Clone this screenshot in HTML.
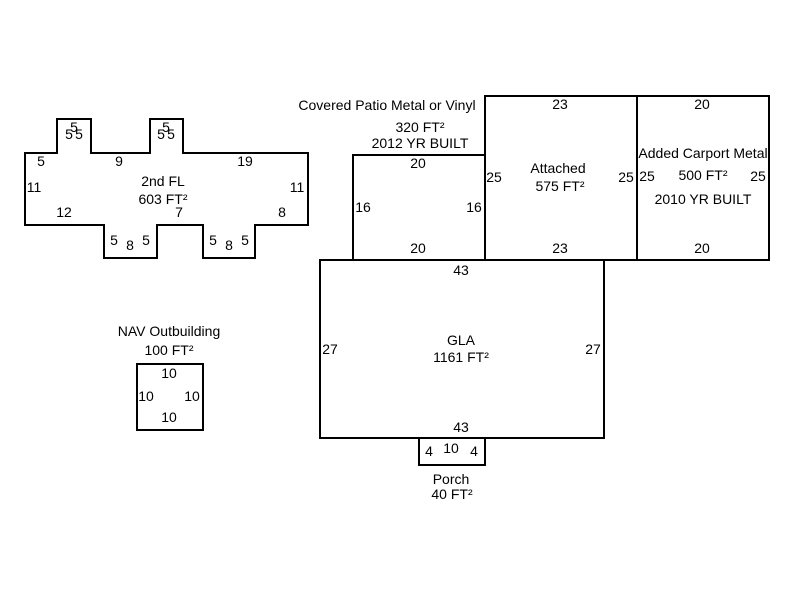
<!DOCTYPE html>
<html><head><meta charset="utf-8"><style>
html,body{margin:0;padding:0;background:#fff;}
svg{display:block;}
text{font-family:"Liberation Sans",Arial,sans-serif;font-size:14px;fill:#000;text-anchor:middle;}
.s{fill:none;stroke:#000;stroke-width:2;}
</style></head><body>
<svg width="800" height="600" viewBox="0 0 800 600">
<polygon class="s" points="25,153 57,153 57,119 91,119 91,153 150,153 150,119 183,119 183,153 308,153 308,225 255,225 255,258 203,258 203,225 157,225 157,258 104,258 104,225 25,225"/>
<rect class="s" x="353" y="155" width="132" height="105"/>
<rect class="s" x="485" y="96" width="152" height="164"/>
<rect class="s" x="637" y="96" width="132" height="164"/>
<rect class="s" x="320" y="260" width="284" height="178"/>
<rect class="s" x="419" y="438" width="66" height="27"/>
<rect class="s" x="137" y="364" width="66" height="66"/>

<text x="74" y="132">5</text><text x="69" y="139">5</text><text x="79" y="139">5</text>
<text x="166" y="132">5</text><text x="161" y="139">5</text><text x="171" y="139">5</text>
<text x="41" y="166">5</text><text x="119" y="166">9</text><text x="245" y="166">19</text>
<text x="34" y="192">11</text><text x="297" y="192">11</text>
<text x="163" y="186">2nd FL</text><text x="163" y="204">603 FT²</text>
<text x="64" y="217">12</text><text x="179" y="217">7</text><text x="282" y="217">8</text>
<text x="114" y="245">5</text><text x="130" y="250">8</text><text x="146" y="245">5</text>
<text x="213" y="245">5</text><text x="229" y="250">8</text><text x="245" y="245">5</text>

<text x="387" y="110">Covered Patio Metal or Vinyl</text>
<text x="420" y="132">320 FT²</text><text x="420" y="148">2012 YR BUILT</text>
<text x="418" y="168">20</text><text x="418" y="253">20</text>
<text x="363" y="212">16</text><text x="474" y="212">16</text>

<text x="560" y="109">23</text><text x="560" y="253">23</text>
<text x="494" y="182">25</text><text x="626" y="182">25</text>
<text x="558" y="173">Attached</text><text x="560" y="191">575 FT²</text>

<text x="702" y="109">20</text><text x="702" y="253">20</text>
<text x="703" y="158">Added Carport Metal</text>
<text x="647" y="181">25</text><text x="758" y="181">25</text>
<text x="703" y="180">500 FT²</text><text x="703" y="204">2010 YR BUILT</text>

<text x="461" y="275">43</text><text x="461" y="432">43</text>
<text x="330" y="354">27</text><text x="593" y="354">27</text>
<text x="461" y="345">GLA</text><text x="461" y="362">1161 FT²</text>

<text x="429" y="456">4</text><text x="451" y="453">10</text><text x="474" y="456">4</text>
<text x="451" y="484">Porch</text><text x="452" y="499">40 FT²</text>

<text x="169" y="336">NAV Outbuilding</text><text x="169" y="355">100 FT²</text>
<text x="169" y="378">10</text><text x="169" y="422">10</text>
<text x="146" y="401">10</text><text x="192" y="401">10</text>
</svg>
</body></html>
